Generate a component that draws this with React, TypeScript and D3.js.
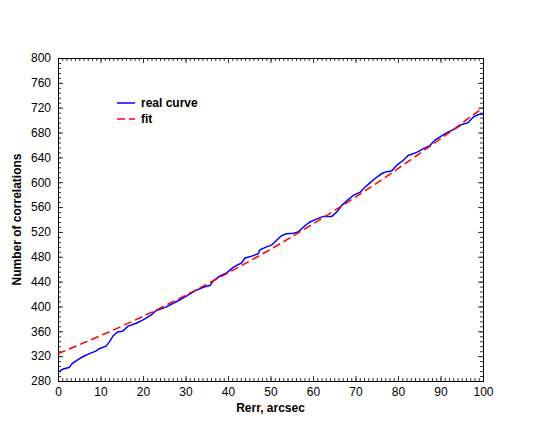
import React, { useEffect, useRef } from 'react';
import * as d3 from 'd3';

// real curve
const realX = [0, 1.1, 2.7, 3.3, 4.6, 5.8, 7.4, 8.9, 9.7, 11.3, 12.1, 13, 14, 15.2, 16.4, 18.4, 19.9, 21.9, 23, 25.4, 28.5, 30.3, 32.2, 34.2, 35.8, 36.5, 38.1, 39.7, 41.2, 43.2, 44, 45.6, 47.1, 47.5, 49.1, 50.3, 51.5, 52.6, 53.8, 55.4, 56.5, 58.1, 59.3, 60.9, 62.4, 64.4, 65.6, 66.8, 68.3, 69.5, 71.1, 72.2, 73.4, 74.6, 76.2, 77.3, 78.5, 79.8, 81.2, 82.4, 84.4, 86, 87.5, 88.7, 89.9, 91.5, 93.4, 95, 96.5, 97.7, 98.9, 100];
const realY = [294, 299, 302, 308, 314, 319, 324, 328, 332, 336, 343, 353, 359, 360, 368, 373, 378, 386, 393, 399, 410, 417, 425, 431, 434, 441, 449, 454, 463, 470, 478, 481, 485, 491, 496, 499, 507, 514, 517, 518, 520, 530, 536, 541, 545, 545, 552, 563, 572, 579, 584, 592, 599, 606, 614, 617, 618, 628, 635, 643, 648, 654, 659, 668, 673, 680, 686, 693, 696, 705, 709, 710];

// fit curve
const fitX = [0, 10, 20, 30, 40, 50, 60, 70, 80, 90, 100];
const fitY = [324, 353, 384, 418, 454, 492, 533, 576, 622, 670, 720];

const xTicks = [0, 10, 20, 30, 40, 50, 60, 70, 80, 90, 100];
const yTicks = [280, 320, 360, 400, 440, 480, 520, 560, 600, 640, 680, 720, 760, 800];

const legendLabels = ['real curve', 'fit'];

const FONT = '"Liberation Sans", Arial, Helvetica, sans-serif';

function Chart() {
  const ref = useRef<SVGSVGElement>(null);

  useEffect(() => {
    const svg = d3.select(ref.current);
    svg.selectAll('*').remove();

    const width = 545;
    const height = 429;
    const margin = { top: 58, right: 62, bottom: 48, left: 58 };

    const x = d3.scaleLinear().domain([0, 100]).range([margin.left, width - margin.right]);
    const y = d3.scaleLinear().domain([280, 800]).range([height - margin.bottom, margin.top]);

    const major = 5;
    const minor = 3;
    const xMinor = d3.range(0, 101, 1);
    const yMinor = d3.range(280, 801, 8);

    const addAxis = (axis: any, tr: string) => {
      const g = svg.append('g').attr('transform', tr).call(axis);
      g.select('.domain').remove();
      g.selectAll('line').attr('stroke', '#333').attr('stroke-width', 1);
      g.selectAll('text')
        .style('font-family', FONT)
        .style('font-size', '12px')
        .attr('fill', '#000');
      return g;
    };

    const bottom = height - margin.bottom;
    const right = width - margin.right;

    // bottom
    addAxis(d3.axisBottom(x).tickValues(xMinor).tickSize(-minor).tickFormat(() => ''), `translate(0,${bottom})`);
    addAxis(d3.axisBottom(x).tickValues(xTicks).tickSize(-major).tickPadding(6).tickFormat(d3.format('d')), `translate(0,${bottom})`);
    // top
    addAxis(d3.axisTop(x).tickValues(xMinor).tickSize(-minor).tickFormat(() => ''), `translate(0,${margin.top})`);
    addAxis(d3.axisTop(x).tickValues(xTicks).tickSize(-major).tickFormat(() => ''), `translate(0,${margin.top})`);
    // left
    addAxis(d3.axisLeft(y).tickValues(yMinor).tickSize(-minor).tickFormat(() => ''), `translate(${margin.left},0)`);
    addAxis(d3.axisLeft(y).tickValues(yTicks).tickSize(-major).tickPadding(7).tickFormat(d3.format('d')), `translate(${margin.left},0)`);
    // right
    addAxis(d3.axisRight(y).tickValues(yMinor).tickSize(-minor).tickFormat(() => ''), `translate(${right},0)`);
    addAxis(d3.axisRight(y).tickValues(yTicks).tickSize(-major).tickFormat(() => ''), `translate(${right},0)`);

    // frame
    svg.append('rect')
      .attr('x', margin.left + 0.5)
      .attr('y', margin.top + 0.5)
      .attr('width', right - margin.left)
      .attr('height', bottom - margin.top)
      .attr('fill', 'none')
      .attr('stroke', '#000')
      .attr('stroke-width', 1);

    const realData = realX.map((d, i) => [d, realY[i]] as [number, number]);
    const fitData = fitX.map((d, i) => [d, fitY[i]] as [number, number]);

    const line = d3.line<[number, number]>().x(d => x(d[0])).y(d => y(d[1]));
    const smooth = d3.line<[number, number]>().x(d => x(d[0])).y(d => y(d[1])).curve(d3.curveMonotoneX);

    svg.append('path')
      .datum(realData)
      .attr('d', line)
      .attr('fill', 'none')
      .attr('stroke', '#0000ff')
      .attr('stroke-width', 1.5);

    svg.append('path')
      .datum(fitData)
      .attr('d', smooth)
      .attr('fill', 'none')
      .attr('stroke', '#ff0000')
      .attr('stroke-width', 1.5)
      .attr('stroke-dasharray', '8,4');

    // legend
    const legend = svg.append('g').attr('transform', 'translate(117,103)');
    legendLabels.forEach((label, i) => {
      const row = legend.append('g').attr('transform', `translate(0,${i * 16})`);
      row.append('line')
        .attr('x1', 0).attr('x2', 18)
        .attr('y1', 0).attr('y2', 0)
        .attr('stroke', i === 0 ? '#0000ff' : '#ff0000')
        .attr('stroke-width', 1.5)
        .attr('stroke-dasharray', i === 0 ? null : '8,4');
      row.append('text')
        .attr('x', 24)
        .attr('y', 4)
        .style('font-family', FONT)
        .style('font-size', '12px')
        .style('font-weight', 'bold')
        .text(label);
    });

    // axis titles
    svg.append('text')
      .attr('x', (margin.left + right) / 2)
      .attr('y', 412)
      .attr('text-anchor', 'middle')
      .style('font-family', FONT)
      .style('font-size', '12px')
      .style('font-weight', 'bold')
      .text('Rerr, arcsec');

    svg.append('text')
      .attr('transform', `translate(21,${(margin.top + bottom) / 2}) rotate(-90)`)
      .attr('text-anchor', 'middle')
      .style('font-family', FONT)
      .style('font-size', '12px')
      .style('font-weight', 'bold')
      .text('Number of correlations');
  }, []);

  return (
    <svg
      ref={ref}
      width={545}
      height={429}
      style={{ position: 'absolute', left: 0, top: 0, background: '#fff' }}
    />
  );
}

export default function App() {
  return <Chart />;
}
